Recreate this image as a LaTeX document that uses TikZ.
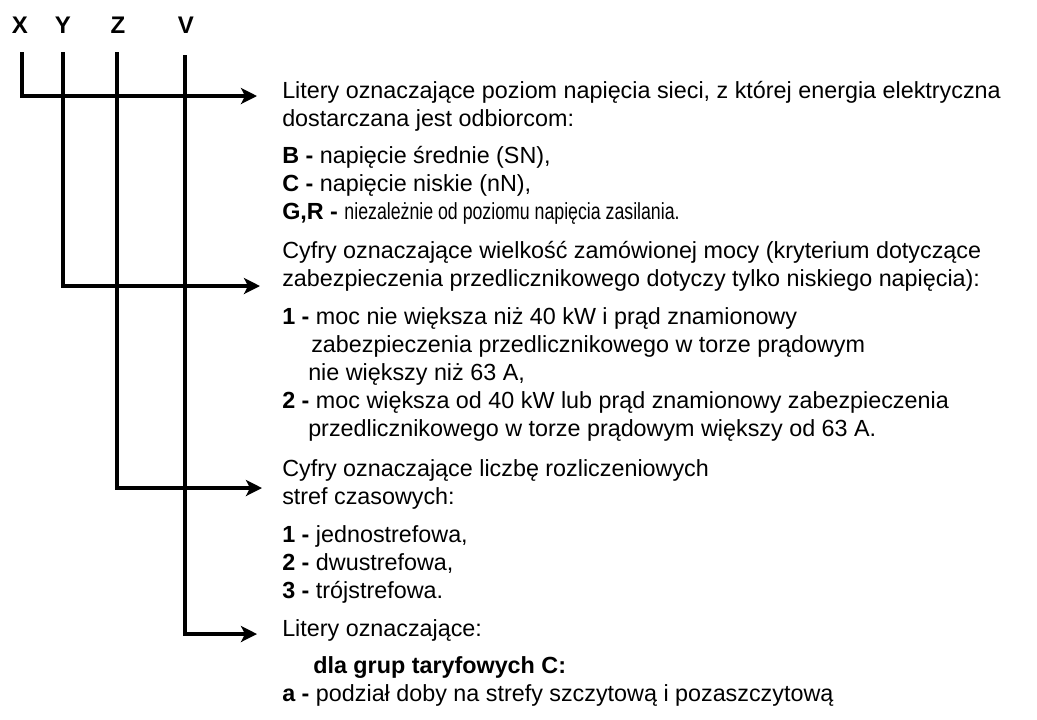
\documentclass[tikz,border=0pt]{standalone}
\usepackage{fontspec}
\setmainfont{Liberation Sans}
\usetikzlibrary{arrows.meta}
\begin{document}
\begin{tikzpicture}[x=0.75pt,y=-0.75pt,
  conn/.style={line width=3pt,-{Stealth[length=12pt,width=12pt,inset=3pt]}},
  txt/.style={anchor=base west,inner sep=0pt,font=\fontsize{17.5pt}{21pt}\selectfont},
  lbl/.style={anchor=base,inner sep=0pt,font=\fontsize{18pt}{21pt}\selectfont\bfseries}]
\useasboundingbox (0,0) rectangle (1037,719);
% letters
\node[lbl] (X) at (20,33) {X};
\node[lbl] (Y) at (63,33) {Y};
\node[lbl] (Z) at (118,33) {Z};
\node[lbl] (V) at (186,33) {V};
% line tops and arrow ends
\coordinate (xt) at (22,52);
\coordinate (yt) at (63,52);
\coordinate (zt) at (117,52);
\coordinate (vt) at (185,55);
\coordinate (xe) at (257,96);
\coordinate (ye) at (260,286);
\coordinate (ze) at (262,488);
\coordinate (ve) at (257,634);
\draw[conn] (xt) |- (xe);
\draw[conn] (yt) |- (ye);
\draw[conn] (zt) |- (ze);
\draw[conn] (vt) |- (ve);
% text block 1
\node[txt] (t1) at (282,98) {Litery oznaczające poziom napięcia sieci, z której energia elektryczna};
\node[txt] (t2) at (282,126) {dostarczana jest odbiorcom:};
\node[txt] (t3) at (282,163) {\textbf{B -} napięcie średnie (SN),};
\node[txt] (t4) at (282,191) {\textbf{C -} napięcie niskie (nN),};
\node[txt] (t5) at (282,219) {\textbf{G,R -} \scalebox{0.76}[1]{niezależnie od poziomu napięcia zasilania.}};
% text block 2
\node[txt] (t6) at (282,258) {Cyfry oznaczające wielkość zamówionej mocy (kryterium dotyczące};
\node[txt] (t7) at (282,286) {zabezpieczenia przedlicznikowego dotyczy tylko niskiego napięcia):};
\node[txt] (t8) at (282,324) {\textbf{1 -} moc nie większa niż 40 kW i prąd znamionowy};
\node[txt] (t9) at (311,352) {zabezpieczenia przedlicznikowego w torze prądowym};
\node[txt] (t10) at (308,380) {nie większy niż 63 A,};
\node[txt] (t11) at (282,408) {\textbf{2 -} moc większa od 40 kW lub prąd znamionowy zabezpieczenia};
\node[txt] (t12) at (308,436) {przedlicznikowego w torze prądowym większy od 63 A.};
% text block 3
\node[txt] (t13) at (282,476) {Cyfry oznaczające liczbę rozliczeniowych};
\node[txt] (t14) at (282,504) {stref czasowych:};
\node[txt] (t15) at (282,542) {\textbf{1 -} jednostrefowa,};
\node[txt] (t16) at (282,570) {\textbf{2 -} dwustrefowa,};
\node[txt] (t17) at (282,598) {\textbf{3 -} trójstrefowa.};
% text block 4
\node[txt] (t18) at (282,636) {Litery oznaczające:};
\node[txt] (t19) at (313,673) {\textbf{dla grup taryfowych C:}};
\node[txt] (t20) at (282,701) {\textbf{a -} podział doby na strefy szczytową i pozaszczytową};
\end{tikzpicture}
\end{document}
